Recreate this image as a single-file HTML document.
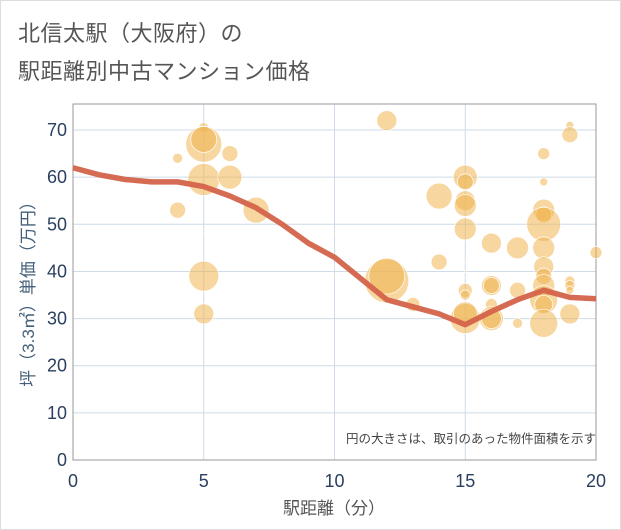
<!DOCTYPE html>
<html><head><meta charset="utf-8"><style>
body{margin:0;background:#fff;}
#c{position:relative;width:619px;height:528px;border:1px solid #ddd;font-family:"Liberation Sans","Noto Sans CJK JP",sans-serif;overflow:hidden;}
.t{position:absolute;left:17px;color:#555;font-size:22px;letter-spacing:0.5px;}
</style></head><body><div id="c">
<div class="t" style="top:15px">北信太駅（大阪府）の</div>
<div class="t" style="top:53px">駅距離別中古マンション価格</div>
<svg id="s" width="621" height="530" style="position:absolute;left:-1px;top:-1px" font-family="Liberation Sans,Noto Sans CJK JP,sans-serif">
<g id="grid" stroke="#cfdbe8" stroke-width="1"></g>
<rect x="73" y="104" width="523" height="356" fill="none" stroke="#999" stroke-width="1"/>
<g id="b"></g>
<polyline id="ln" fill="none" stroke="#d4634a" stroke-width="5.5" stroke-linejoin="round" opacity="0.95"/>
<g id="tk" fill="#2a3f5f" font-size="18"></g>
<text x="596" y="443" text-anchor="end" font-size="12.5" fill="#444">円の大きさは、取引のあった物件面積を示す</text>
<text x="334" y="514" text-anchor="middle" font-size="17" fill="#555">駅距離（分）</text>
<text transform="translate(34,290) rotate(-90)" text-anchor="middle" font-size="17" fill="#445f7a">坪（3.3㎡）単価（万円）</text>
</svg></div>
<script>
var X=function(x){return 73+26.15*x},Y=function(y){return 460-4.714*y};
var ns="http://www.w3.org/2000/svg",g=document.getElementById('grid'),tk=document.getElementById('tk');
function el(p,t,a){var e=document.createElementNS(ns,t);for(var k in a)e.setAttribute(k,a[k]);p.appendChild(e);return e;}
for(var i=0;i<=20;i+=5){el(g,'line',{x1:X(i),x2:X(i),y1:104,y2:460});var t=el(tk,'text',{x:X(i),y:487,'text-anchor':'middle'});t.textContent=i;}
for(var j=0;j<=70;j+=10){el(g,'line',{x1:73,x2:596,y1:Y(j),y2:Y(j)});var t=el(tk,'text',{x:67,y:Y(j)+6,'text-anchor':'end'});t.textContent=j;}
var B=[[5,70.5,5],[5,67,18],[5,68,13],[5,59.5,16],[5,39,15],[5,31,10],[5,48,1],[4,64,5],[4,53,8],[6,65,8],[6,60,12],[7,53,13],[10,48,1],[10,41,1],[10,39,1],[12,72,10],[12,38,22],[12,39,18],[13,33,7],[14,56,13],[14,42,8],[15,60,12],[15,59,8],[15,55,10],[15,54,11],[15,49,11],[15,42,1],[15,40,1],[15,36,7],[15,35,5],[15,30,15],[15,31,12],[16,46,10],[16,37,10],[16,37,8],[16,33,6],[16,30,12],[16,30,10],[17,45,11],[17,36,8],[17,29,5],[18,65,6],[18,59,4],[18,53,11],[18,52,8],[18,50,17],[18,45,11],[18,41,10],[18,39,8],[18,37,11],[18,34,14],[18,33,9],[18,29,14],[19,71,4],[19,69,8],[19,38,5],[19,37,5],[19,36,4],[19,31,10],[20,44,6]];
var bg=document.getElementById('b');
B.forEach(function(b){el(bg,'circle',{cx:X(b[0]),cy:Y(b[1]),r:b[2],fill:'#f0b550','fill-opacity':0.55,stroke:'#fff','stroke-width':0.7});});
var L=[[0,62],[1,60.5],[2,59.5],[3,59],[4,59],[5,58],[6,56],[7,53.5],[8,50],[9,46],[10,43],[11,38.5],[12,34],[13,32.5],[14,31],[15,28.7],[16,31.5],[17,34],[18,36],[19,34.5],[20,34.2]];
document.getElementById('ln').setAttribute('points',L.map(function(p){return X(p[0])+','+Y(p[1])}).join(' '));
</script></body></html>
